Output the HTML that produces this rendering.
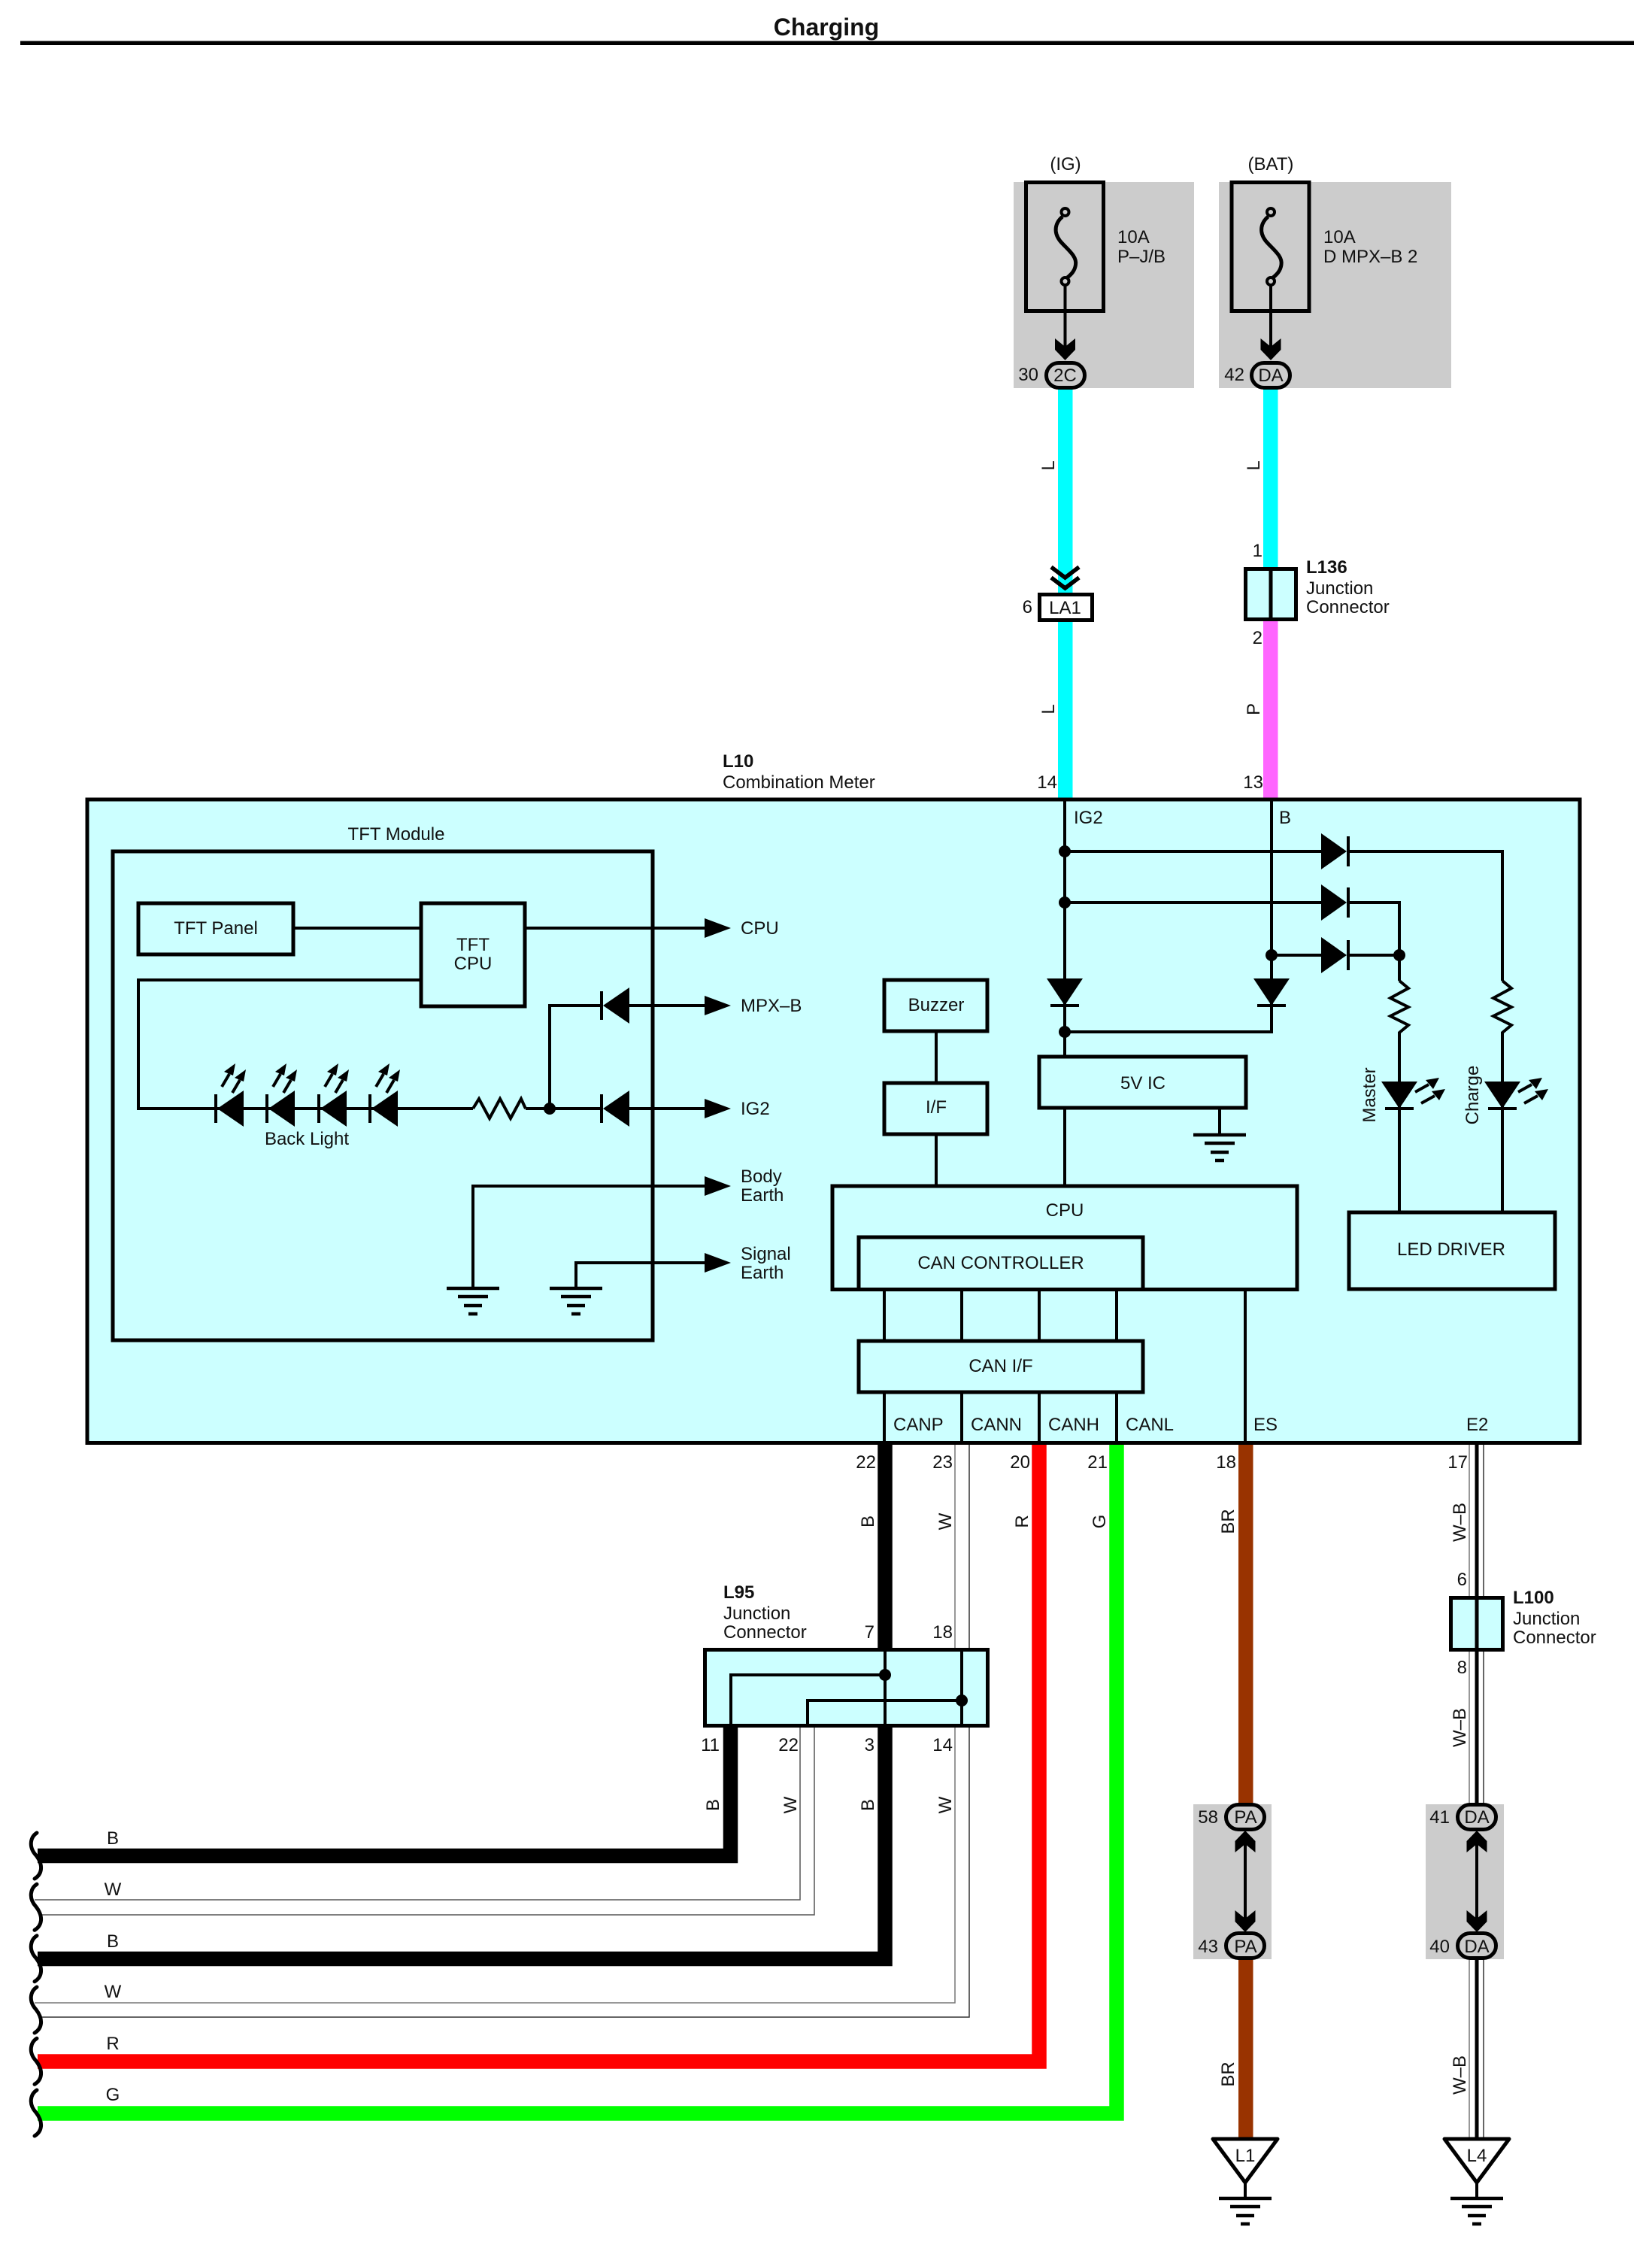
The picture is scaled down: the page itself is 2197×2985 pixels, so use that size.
<!DOCTYPE html>
<html>
<head>
<meta charset="utf-8">
<style>
html,body{margin:0;padding:0;background:#fff}
svg{display:block}
text{font-family:"Liberation Sans",sans-serif;font-size:24px;fill:#111}
.m{text-anchor:middle}
.e{text-anchor:end}
.b{font-weight:bold}
.box{fill:none;stroke:#000;stroke-width:5}
.cy{fill:#ccffff;stroke:#000;stroke-width:5}
.l{fill:none;stroke:#000;stroke-width:4}
.w{fill:none;stroke-linejoin:miter}
</style>
</head>
<body>
<svg xmlns="http://www.w3.org/2000/svg" width="2197" height="2985" viewBox="0 0 2197 2985">
<defs>
  <g id="gnd"><path d="M-35 0H35" stroke="#000" stroke-width="4.5"/><path d="M-20 11H20" stroke="#000" stroke-width="4.5"/><path d="M-12 23H12" stroke="#000" stroke-width="4.5"/><path d="M-6 34H6" stroke="#000" stroke-width="4.5"/></g>
  <g id="dl"><path d="M0 -19V19" stroke="#000" stroke-width="4"/><path d="M2 0L37 -24V24Z" fill="#000"/></g>
  <g id="dr"><path d="M36 -20V20" stroke="#000" stroke-width="4"/><path d="M34 0L0 -24V24Z" fill="#000"/></g>
  <g id="dd"><path d="M-19 36H19" stroke="#000" stroke-width="4"/><path d="M0 36L-24 0H24Z" fill="#000"/></g>
  <g id="sarrU"><path d="M0 0L10 -17" stroke="#000" stroke-width="4"/><path d="M18 -31L3 -20L15 -15Z" fill="#000"/></g>
  <g id="sarrR"><path d="M0 0L18 -10" stroke="#000" stroke-width="4"/><path d="M32 -19L14 -16L24 -4Z" fill="#000"/></g>
  <g id="hd"><path d="M-13.5 -28L0 -17L13.5 -28V-13L0 1L-13.5 -13Z" fill="#000"/></g>
  <g id="ar"><path d="M0 -13L35 0L0 13Z" fill="#000"/></g>
  <g id="dot"><circle r="8" fill="#000"/></g>
  <path id="wave" d="M49 2437C41 2442 37 2455 48 2467C58 2480 56 2492 46 2498" fill="none" stroke="#000" stroke-width="5" stroke-linecap="round"/>
  <g id="fz">
    <path d="M-3.500 58C-13 66 -16 78 -7 90C2 101 16 110 14 122C13 130 8 135 3 139" transform="translate(0,-0)" fill="none" stroke="#000" stroke-width="5"/>
    <circle cx="0" cy="52" r="5" fill="none" stroke="#000" stroke-width="4"/>
    <circle cx="0" cy="144" r="5" fill="none" stroke="#000" stroke-width="4"/>
    <path d="M0 149V240" stroke="#000" stroke-width="4"/>
  </g>
</defs>

<!-- Title -->
<text x="1099" y="47" class="m b" style="font-size:32px">Charging</text>
<rect x="27" y="54.500" width="2146" height="5.500" fill="#000"/>

<!-- Grey relay blocks -->
<rect x="1348" y="242" width="240" height="274" fill="#ccc"/>
<rect x="1621" y="242" width="309" height="274" fill="#ccc"/>
<rect x="1587" y="2399" width="104" height="206" fill="#ccc"/>
<rect x="1896" y="2399" width="104" height="206" fill="#ccc"/>

<!-- Wires top -->
<rect x="1407" y="516" width="19.500" height="272" fill="#00ffff"/>
<rect x="1407" y="826" width="19.500" height="236" fill="#00ffff"/>
<rect x="1680" y="516" width="19.500" height="240" fill="#00ffff"/>
<rect x="1680" y="826" width="19.500" height="236" fill="#ff66ff"/>

<!-- Fuses -->
<rect x="1364.500" y="242.500" width="103" height="171" class="box"/>
<rect x="1638" y="242.500" width="103" height="171" class="box"/>
<use href="#fz" x="1416.500" y="230"/>
<use href="#fz" x="1690" y="230"/>
<use href="#hd" x="1416.500" y="478"/>
<use href="#hd" x="1690" y="478"/>
<rect x="1391.500" y="482.500" width="51" height="33" rx="16.500" ry="16.500" class="box"/>
<rect x="1664.500" y="482.500" width="51" height="33" rx="16.500" ry="16.500" class="box"/>

<text x="1417" y="226" class="m">(IG)</text>
<text x="1690" y="226" class="m">(BAT)</text>
<text x="1486" y="323">10A</text>
<text x="1486" y="349">P–J/B</text>
<text x="1760" y="323">10A</text>
<text x="1760" y="349">D MPX–B 2</text>
<text x="1381" y="506" class="e">30</text>
<text x="1655" y="506" class="e">42</text>
<text x="1416.500" y="507" class="m">2C</text>
<text x="1690" y="507" class="m">DA</text>

<text transform="translate(1402,619) rotate(-90)" class="m">L</text>
<text transform="translate(1402,943) rotate(-90)" class="m">L</text>
<text transform="translate(1675,619) rotate(-90)" class="m">L</text>
<text transform="translate(1675,943) rotate(-90)" class="m">P</text>

<!-- LA1 connector -->
<path d="M1398 754L1416.500 768L1435 754M1398 768L1416.500 782L1435 768" fill="none" stroke="#000" stroke-width="5.500"/>
<rect x="1382.500" y="790.500" width="70" height="34" fill="#fff" stroke="#000" stroke-width="5"/>
<text x="1416.500" y="816" class="m">LA1</text>
<text x="1373" y="815" class="e">6</text>

<!-- L136 -->
<rect x="1656.500" y="756.500" width="67" height="67" class="cy"/>
<path d="M1690 756V824" stroke="#000" stroke-width="5"/>
<text x="1679" y="740" class="e">1</text>
<text x="1679" y="856" class="e">2</text>
<text x="1737" y="762" class="b">L136</text>
<text x="1737" y="790">Junction</text>
<text x="1737" y="815">Connector</text>

<text x="961" y="1020" class="b">L10</text>
<text x="961" y="1048">Combination Meter</text>
<text x="1406" y="1048" class="e">14</text>
<text x="1680" y="1048" class="e">13</text>

<!-- Main box -->
<rect x="116" y="1063" width="1985" height="855.500" class="cy"/>

<!-- TFT module -->
<text x="527" y="1117" class="m">TFT Module</text>
<rect x="150" y="1132" width="718" height="650" class="box"/>
<rect x="184" y="1201" width="206" height="68" class="box"/>
<rect x="560" y="1201" width="138" height="137" class="box"/>
<text x="287" y="1242" class="m">TFT Panel</text>
<text x="629" y="1264" class="m">TFT</text>
<text x="629" y="1289" class="m">CPU</text>
<path d="M390 1234H560M698 1234H940" class="l"/>
<path d="M560 1303H184V1474H629M699 1474H800M837 1474H940M837 1337H940M731 1474V1337H800" class="l"/>
<path d="M629 1474L637 1461L651 1487L665 1461L679 1487L693 1461L699 1474" fill="none" stroke="#000" stroke-width="4" stroke-linejoin="miter"/>
<use href="#dot" x="731" y="1474"/>
<use href="#dl" x="800" y="1337"/>
<use href="#dl" x="800" y="1474"/>
<use href="#dl" x="287" y="1474"/>
<use href="#dl" x="355" y="1474"/>
<use href="#dl" x="424" y="1474"/>
<use href="#dl" x="492" y="1474"/>
<g>
  <use href="#sarrU" x="295" y="1445"/><use href="#sarrU" x="309" y="1453"/>
  <use href="#sarrU" x="363" y="1445"/><use href="#sarrU" x="377" y="1453"/>
  <use href="#sarrU" x="432" y="1445"/><use href="#sarrU" x="446" y="1453"/>
  <use href="#sarrU" x="500" y="1445"/><use href="#sarrU" x="514" y="1453"/>
</g>
<text x="408" y="1522" class="m">Back Light</text>
<path d="M629 1713V1577H940M766 1713V1679H940" class="l"/>
<use href="#gnd" x="629" y="1713"/>
<use href="#gnd" x="766" y="1713"/>
<use href="#ar" x="937" y="1234"/>
<use href="#ar" x="937" y="1337"/>
<use href="#ar" x="937" y="1474"/>
<use href="#ar" x="937" y="1577"/>
<use href="#ar" x="937" y="1679"/>
<text x="985" y="1242">CPU</text>
<text x="985" y="1345">MPX–B</text>
<text x="985" y="1482">IG2</text>
<text x="985" y="1572">Body</text>
<text x="985" y="1597">Earth</text>
<text x="985" y="1675">Signal</text>
<text x="985" y="1700">Earth</text>

<!-- Right internal -->
<text x="1428" y="1095">IG2</text>
<text x="1701" y="1095">B</text>
<path d="M1416 1062V1405" class="l"/>
<path d="M1691 1062V1372H1416" class="l"/>
<path d="M1416 1132H1760M1793 1132H1998V1304M1416 1200H1760M1793 1200H1861V1304M1691 1270H1760M1793 1270H1861" class="l"/>
<use href="#dot" x="1416" y="1132"/>
<use href="#dot" x="1416" y="1200"/>
<use href="#dot" x="1691" y="1270"/>
<use href="#dot" x="1861" y="1270"/>
<use href="#dot" x="1416" y="1372"/>
<use href="#dr" x="1757" y="1132"/>
<use href="#dr" x="1757" y="1200"/>
<use href="#dr" x="1757" y="1270"/>
<use href="#dd" x="1416" y="1301"/>
<use href="#dd" x="1691" y="1301"/>
<path d="M1861 1304L1873 1314L1849 1327L1873 1339L1849 1351L1873 1363L1861 1373V1611" class="l"/>
<path d="M1998 1304L2010 1314L1986 1327L2010 1339L1986 1351L2010 1363L1998 1373V1611" class="l"/>
<use href="#dd" x="1861" y="1438"/>
<use href="#dd" x="1998" y="1438"/>
<use href="#sarrR" x="1882" y="1452"/><use href="#sarrR" x="1890" y="1467"/>
<use href="#sarrR" x="2019" y="1452"/><use href="#sarrR" x="2027" y="1467"/>
<text transform="translate(1829,1456) rotate(-90)" class="m">Master</text>
<text transform="translate(1966,1456) rotate(-90)" class="m">Charge</text>

<rect x="1176" y="1303" width="137" height="68" class="box"/>
<rect x="1176" y="1440" width="137" height="68" class="box"/>
<path d="M1245 1371V1440M1245 1508V1577" class="l"/>
<text x="1245" y="1344" class="m">Buzzer</text>
<text x="1245" y="1480" class="m">I/F</text>
<rect x="1382" y="1405" width="275" height="68" class="box"/>
<text x="1520" y="1448" class="m">5V IC</text>
<path d="M1416 1473V1577M1622 1473V1509" class="l"/>
<use href="#gnd" x="1622" y="1509"/>

<rect x="1107" y="1577" width="618" height="137.500" class="box"/>
<rect x="1142" y="1645" width="378" height="69.500" class="box"/>
<rect x="1142" y="1783" width="378" height="68" class="box"/>
<text x="1416" y="1617" class="m">CPU</text>
<text x="1331" y="1687" class="m">CAN CONTROLLER</text>
<text x="1331" y="1824" class="m">CAN I/F</text>
<rect x="1794" y="1612" width="274" height="102" class="box"/>
<text x="1930" y="1669" class="m">LED DRIVER</text>
<path d="M1176 1714V1783M1279 1714V1783M1382 1714V1783M1485 1714V1783M1176 1851V1917M1279 1851V1917M1382 1851V1917M1485 1851V1917M1656 1714V1917" class="l"/>
<text x="1188" y="1902">CANP</text>
<text x="1291" y="1902">CANN</text>
<text x="1394" y="1902">CANH</text>
<text x="1497" y="1902">CANL</text>
<text x="1667" y="1902">ES</text>
<text x="1950" y="1902">E2</text>

<!-- Bottom wires -->
<path d="M1177 1921V2191" class="w" stroke="#000" stroke-width="19.500"/>
<path d="M1177 2297V2604.500H50" class="w" stroke="#000" stroke-width="19.500"/>
<path d="M971.500 2297V2467.500H50" class="w" stroke="#000" stroke-width="19.500"/>
<path d="M1382 1921V2741H50" class="w" stroke="#ff0000" stroke-width="19.500"/>
<path d="M1485 1921V2810H50" class="w" stroke="#00ff00" stroke-width="19.500"/>
<path d="M1270 1921V2191M1270 2297V2663H46" class="w" stroke="#777" stroke-width="1.500"/>
<path d="M1289 1921V2191M1289 2297V2682H55" class="w" stroke="#333" stroke-width="1.500"/>
<path d="M1064 2297V2526H46" class="w" stroke="#555" stroke-width="1.500"/>
<path d="M1083 2297V2546H55" class="w" stroke="#555" stroke-width="1.500"/>
<rect x="1647" y="1921" width="19.500" height="480" fill="#993300"/>
<rect x="1647" y="2604" width="19.500" height="240" fill="#993300"/>
<path d="M1954 1921V2122M1954 2196V2400M1954 2604V2843" class="w" stroke="#777" stroke-width="1.500"/>
<path d="M1973 1921V2122M1973 2196V2400M1973 2604V2843" class="w" stroke="#333" stroke-width="1.500"/>
<path d="M1964 1921V2400M1964 2604V2843" class="w" stroke="#000" stroke-width="5"/>

<use href="#wave"/>
<use href="#wave" y="68.300"/>
<use href="#wave" y="136.700"/>
<use href="#wave" y="205"/>
<use href="#wave" y="273.300"/>
<use href="#wave" y="342"/>

<text x="150" y="2452" class="m">B</text>
<text x="150" y="2520" class="m">W</text>
<text x="150" y="2589" class="m">B</text>
<text x="150" y="2656" class="m">W</text>
<text x="150" y="2725" class="m">R</text>
<text x="150" y="2793" class="m">G</text>

<!-- L95 -->
<rect x="937.500" y="2193.500" width="376" height="101" class="cy"/>
<path d="M1177 2193V2295M1279 2193V2295M972 2295V2227H1177M1074 2295V2261H1279" class="l"/>
<use href="#dot" x="1177" y="2227"/>
<use href="#dot" x="1279" y="2261"/>
<text x="962" y="2125" class="b">L95</text>
<text x="962" y="2153">Junction</text>
<text x="962" y="2178">Connector</text>
<text x="1163" y="2178" class="e">7</text>
<text x="1267" y="2178" class="e">18</text>
<text x="957" y="2328" class="e">11</text>
<text x="1062" y="2328" class="e">22</text>
<text x="1163" y="2328" class="e">3</text>
<text x="1267" y="2328" class="e">14</text>
<text transform="translate(956,2400) rotate(-90)" class="m">B</text>
<text transform="translate(1059,2400) rotate(-90)" class="m">W</text>
<text transform="translate(1162,2400) rotate(-90)" class="m">B</text>
<text transform="translate(1265,2400) rotate(-90)" class="m">W</text>

<text x="1165" y="1952" class="e">22</text>
<text x="1267" y="1952" class="e">23</text>
<text x="1370" y="1952" class="e">20</text>
<text x="1473" y="1952" class="e">21</text>
<text x="1644" y="1952" class="e">18</text>
<text x="1952" y="1952" class="e">17</text>
<text transform="translate(1162,2023) rotate(-90)" class="m">B</text>
<text transform="translate(1265,2023) rotate(-90)" class="m">W</text>
<text transform="translate(1367,2023) rotate(-90)" class="m">R</text>
<text transform="translate(1470,2023) rotate(-90)" class="m">G</text>
<text transform="translate(1641,2023) rotate(-90)" class="m">BR</text>
<text transform="translate(1949,2024) rotate(-90)" class="m">W–B</text>
<text transform="translate(1949,2297) rotate(-90)" class="m">W–B</text>
<text transform="translate(1949,2759) rotate(-90)" class="m">W–B</text>
<text transform="translate(1641,2758) rotate(-90)" class="m">BR</text>

<!-- L100 -->
<rect x="1929.500" y="2124.500" width="69" height="69" class="cy"/>
<path d="M1964 2124V2194" stroke="#000" stroke-width="5"/>
<text x="1951" y="2108" class="e">6</text>
<text x="1951" y="2225" class="e">8</text>
<text x="2012" y="2132" class="b">L100</text>
<text x="2012" y="2160">Junction</text>
<text x="2012" y="2185">Connector</text>

<!-- In-line connectors -->
<rect x="1630.500" y="2399.500" width="51" height="33" rx="16.500" ry="16.500" class="box"/>
<rect x="1630.500" y="2570.500" width="51" height="33" rx="16.500" ry="16.500" class="box"/>
<rect x="1938.500" y="2399.500" width="51" height="33" rx="16.500" ry="16.500" class="box"/>
<rect x="1938.500" y="2570.500" width="51" height="33" rx="16.500" ry="16.500" class="box"/>
<path d="M1656 2440V2560M1964 2440V2560" stroke="#000" stroke-width="4"/>
<use href="#hd" transform="translate(1656,2435) scale(1,-1)"/>
<use href="#hd" transform="translate(1964,2435) scale(1,-1)"/>
<use href="#hd" x="1656" y="2568"/>
<use href="#hd" x="1964" y="2568"/>
<text x="1656.500" y="2424" class="m">PA</text>
<text x="1656.500" y="2596" class="m">PA</text>
<text x="1964" y="2424" class="m">DA</text>
<text x="1964" y="2596" class="m">DA</text>
<text x="1620" y="2424" class="e">58</text>
<text x="1620" y="2596" class="e">43</text>
<text x="1928" y="2424" class="e">41</text>
<text x="1928" y="2596" class="e">40</text>

<!-- Ground triangles -->
<path d="M1613 2844H1699L1656 2902Z" fill="#fff" stroke="#000" stroke-width="5" stroke-linejoin="round"/>
<path d="M1921 2844H2007L1964 2902Z" fill="#fff" stroke="#000" stroke-width="5" stroke-linejoin="round"/>
<path d="M1656 2902V2923M1964 2902V2923" stroke="#000" stroke-width="4"/>
<use href="#gnd" x="1656" y="2923"/>
<use href="#gnd" x="1964" y="2923"/>
<text x="1656" y="2874" class="m">L1</text>
<text x="1964" y="2874" class="m">L4</text>
</svg>
</body>
</html>
